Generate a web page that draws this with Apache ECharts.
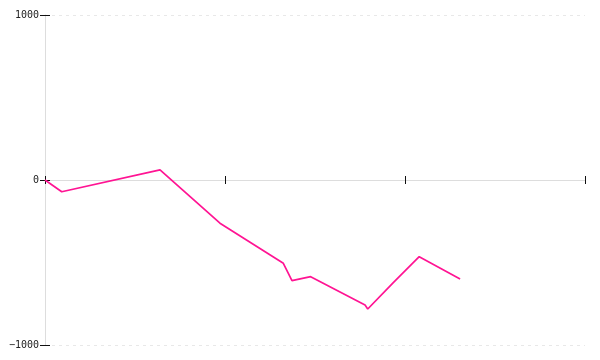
<!DOCTYPE html>
<html>
<head>
<meta charset="utf-8">
<script src="https://cdn.jsdelivr.net/npm/echarts@6/dist/echarts.min.js"></script>
<style>
html,body{margin:0;padding:0;background:#fff;}
#chart{width:600px;height:360px;}
</style>
</head>
<body>
<div id="chart"></div>
<script>
// x positions (arbitrary units, axis 0..30) and y values
var xValues = [0, 0.93, 6.39, 9.72, 13.24, 13.72, 14.76, 17.78, 17.93, 19.35, 20.79, 23.06];
var yValues = [0, -71, 61, -262, -505, -610, -586, -758, -782, -622, -465, -600];
var yTicks = [-1000, 0, 1000];
var xTicks = [0, 10, 20, 30];

var points = xValues.map(function (x, i) { return [x, yValues[i]]; });

var labelFont = 'DejaVu Sans Mono';
var tickColor = '#111';

function xAxisDef(inside, showLine) {
  return {
    type: 'value',
    position: 'bottom',
    min: xTicks[0], max: xTicks[xTicks.length - 1], interval: xTicks[1] - xTicks[0],
    axisLine: { show: showLine, onZero: true, onZeroAxisIndex: 0, lineStyle: { color: '#dddddd', width: 1 } },
    axisTick: { show: true, inside: inside, length: 4, lineStyle: { color: tickColor, width: 1 } },
    axisLabel: { show: false },
    splitLine: { show: false }
  };
}
function yAxisDef(inside, showLabel, showLine, showSplit) {
  return {
    type: 'value',
    position: 'left',
    offset: 0,
    min: yTicks[0], max: yTicks[yTicks.length - 1], interval: yTicks[1] - yTicks[0],
    axisLine: { show: showLine, onZero: false, lineStyle: { color: '#dddddd', width: 1 } },
    axisTick: { show: true, inside: inside, length: 5, lineStyle: { color: tickColor, width: 1 } },
    axisLabel: {
      show: showLabel, margin: 6, color: '#222', fontFamily: labelFont, fontSize: 10,
      formatter: function (v) { return v < 0 ? '\u2212' + String(-v) : String(v); }
    },
    splitLine: { show: showSplit, lineStyle: { color: '#e8e8e8', type: [3, 4], width: 1 } }
  };
}

var chart = echarts.init(document.getElementById('chart'), null, { renderer: 'canvas' });
chart.setOption({
  animation: false,
  backgroundColor: '#ffffff',
  grid: { left: 45, right: 15, top: 15, bottom: 15, containLabel: false },
  xAxis: [xAxisDef(false, true), xAxisDef(true, false)],
  yAxis: [yAxisDef(false, true, true, true), yAxisDef(true, false, false, false)],
  series: [{
    type: 'line',
    xAxisIndex: 0,
    yAxisIndex: 0,
    data: points,
    showSymbol: false,
    symbol: 'none',
    lineStyle: { color: '#ff1493', width: 1.7 },
    itemStyle: { color: '#ff1493' }
  }]
});
</script>
</body>
</html>
